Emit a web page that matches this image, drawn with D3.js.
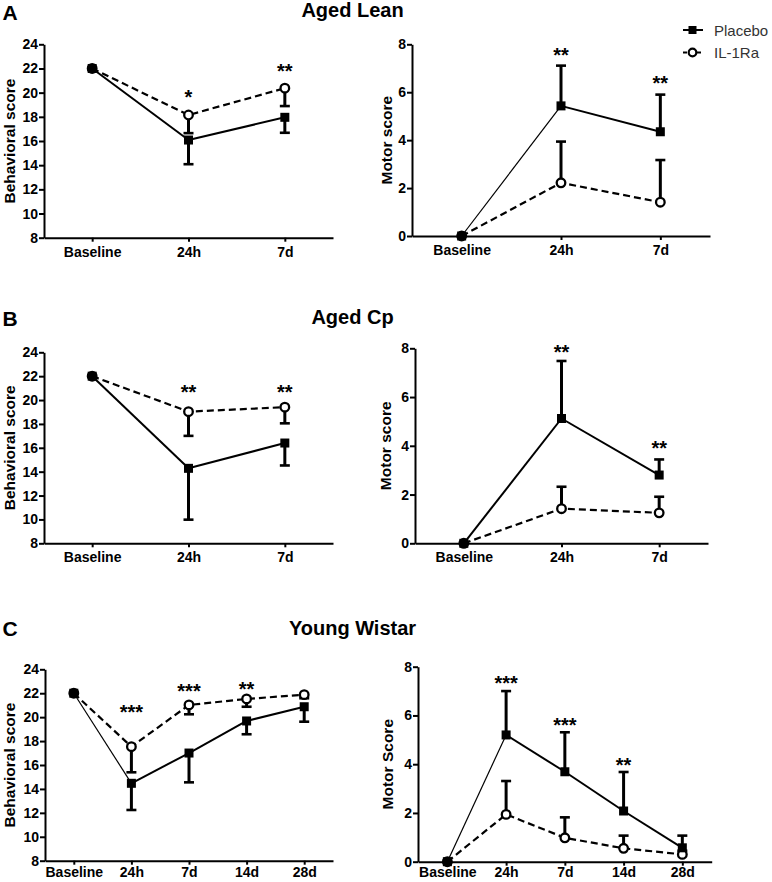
<!DOCTYPE html>
<html><head><meta charset="utf-8">
<script src="https://cdn.jsdelivr.net/npm/d3@7"></script>
<style>
body{margin:0;background:#fff}
text{font-family:"Liberation Sans",Arial,Helvetica,sans-serif}
</style>
</head><body>
<svg id="chart" width="772" height="882"></svg>
<script>
// ---------- DATA ----------
const catsShort = ["Baseline", "24h", "7d"];
const catsLong = ["Baseline", "24h", "7d", "14d", "28d"];
const seriesNames = ["Placebo", "IL-1Ra"];
const behaviorTicks = [8, 10, 12, 14, 16, 18, 20, 22, 24];
const motorTicks = [0, 2, 4, 6, 8];
const panelLetters = ["A", "B", "C"];
const groupTitles = ["Aged Lean", "Aged Cp", "Young Wistar"];

// A - Aged Lean
const leanBehPlacebo = [22, 16.08, 17.96];
const leanBehPlaceboErr = [0, 2.0, 1.28];
const leanBehIL = [22, 18.15, 20.37];
const leanBehILErr = [0, 1.5, 1.48];
const leanBehStars = ["", "*", "**"];
const leanBehStarAt = [null, 20.0, 22.1];

const leanMotPlacebo = [0, 5.43, 4.35];
const leanMotPlaceboErr = [0, 1.68, 1.55];
const leanMotIL = [0, 2.22, 1.41];
const leanMotILErr = [0, 1.72, 1.76];
const leanMotStars = ["", "**", "**"];
const leanMotStarAt = [null, 7.72, 6.55];

// B - Aged Cp
const cpBehPlacebo = [22, 14.28, 16.4];
const cpBehPlaceboErr = [0, 4.3, 1.88];
const cpBehIL = [22, 19.03, 19.4];
const cpBehILErr = [0, 2.03, 1.35];
const cpBehStars = ["", "**", "**"];
const cpBehStarAt = [null, 21.0, 21.0];

const cpMotPlacebo = [0, 5.12, 2.8];
const cpMotPlaceboErr = [0, 2.36, 0.64];
const cpMotIL = [0, 1.42, 1.25];
const cpMotILErr = [0, 0.9, 0.66];
const cpMotStars = ["", "**", "**"];
const cpMotStarAt = [null, 8.0, 4.07];

// C - Young Wistar
const ywBehPlacebo = [22, 14.47, 17.0, 19.68, 20.87];
const ywBehPlaceboErr = [0, 2.23, 2.45, 1.11, 1.25];
const ywBehIL = [22, 17.53, 21.02, 21.52, 21.88];
const ywBehILErr = [0, 2.14, 0.78, 0.65, 0.3];
const ywBehStars = ["", "***", "***", "**", ""];
const ywBehStarAt = [null, 20.76, 22.5, 22.7, null];

const ywMotPlacebo = [0, 5.2, 3.69, 2.08, 0.57];
const ywMotPlaceboErr = [0, 1.8, 1.62, 1.6, 0.5];
const ywMotIL = [0, 1.94, 0.98, 0.55, 0.3];
const ywMotILErr = [0, 1.37, 0.84, 0.52, 0.15];
const ywMotStars = ["", "***", "***", "**", ""];
const ywMotStarAt = [null, 7.5, 5.77, 4.13, null];

// ---------- PANELS (data refs + layout) ----------
const panels = [
  {cats: catsShort, ticks: behaviorTicks, domain: [8, 24], ylabel: "Behavioral score", dir: -1,
   p: leanBehPlacebo, pe: leanBehPlaceboErr, il: leanBehIL, ile: leanBehILErr, stars: leanBehStars, starAt: leanBehStarAt,
   x0: 44, x1: 333, yTop: 44.3, yBot: 237.7, labX: 14.5, thinFirst: false, xPad: 5},
  {cats: catsShort, ticks: motorTicks, domain: [0, 8], ylabel: "Motor score", dir: 1,
   p: leanMotPlacebo, pe: leanMotPlaceboErr, il: leanMotIL, ile: leanMotILErr, stars: leanMotStars, starAt: leanMotStarAt,
   x0: 412, x1: 710, yTop: 44.3, yBot: 236, labX: 392, thinFirst: true, xPad: 5},
  {cats: catsShort, ticks: behaviorTicks, domain: [8, 24], ylabel: "Behavioral score", dir: -1,
   p: cpBehPlacebo, pe: cpBehPlaceboErr, il: cpBehIL, ile: cpBehILErr, stars: cpBehStars, starAt: cpBehStarAt,
   x0: 44, x1: 333, yTop: 352.3, yBot: 543.3, labX: 14.5, thinFirst: false, xPad: 5},
  {cats: catsShort, ticks: motorTicks, domain: [0, 8], ylabel: "Motor score", dir: 1,
   p: cpMotPlacebo, pe: cpMotPlaceboErr, il: cpMotIL, ile: cpMotILErr, stars: cpMotStars, starAt: cpMotStarAt,
   x0: 415, x1: 708, yTop: 348.3, yBot: 543.3, labX: 391, thinFirst: false, xPad: 5},
  {cats: catsLong, ticks: behaviorTicks, domain: [8, 24], ylabel: "Behavioral score", dir: -1,
   p: ywBehPlacebo, pe: ywBehPlaceboErr, il: ywBehIL, ile: ywBehILErr, stars: ywBehStars, starAt: ywBehStarAt,
   x0: 45, x1: 333, yTop: 669.3, yBot: 860.7, labX: 14.5, thinFirst: true, xPad: 2.5},
  {cats: catsLong, ticks: motorTicks, domain: [0, 8], ylabel: "Motor Score", dir: 1,
   p: ywMotPlacebo, pe: ywMotPlaceboErr, il: ywMotIL, ile: ywMotILErr, stars: ywMotStars, starAt: ywMotStarAt,
   x0: 418, x1: 711.7, yTop: 666.7, yBot: 861.7, labX: 393, thinFirst: true, xPad: 1.5}
];
const headerPos = [{letterY: 20, titleY: 16.5}, {letterY: 326, titleY: 324}, {letterY: 636, titleY: 634.5}];

const svg = d3.select("#chart");

// Headers
headerPos.forEach((h, i) => {
  svg.append("text").attr("x", 2.5).attr("y", h.letterY)
    .attr("font-size", 21).attr("font-weight", "bold").text(panelLetters[i]);
  svg.append("text").attr("x", 352.5).attr("y", h.titleY).attr("text-anchor", "middle")
    .attr("font-size", 20).attr("font-weight", "bold").text(groupTitles[i]);
});

panels.forEach(pn => {
  const g = svg.append("g");
  const x = d3.scalePoint().domain(pn.cats).range([pn.x0, pn.x1]).padding(0.5);
  const y = d3.scaleLinear().domain(pn.domain).range([pn.yBot, pn.yTop]);

  // Axes
  const ya = g.append("g").attr("transform", `translate(${pn.x0},0)`)
    .call(d3.axisLeft(y).tickValues(pn.ticks).tickSize(5).tickSizeOuter(0).tickPadding(1));
  const xa = g.append("g").attr("transform", `translate(0,${pn.yBot})`)
    .call(d3.axisBottom(x).tickSize(4).tickSizeOuter(0).tickPadding(pn.xPad));
  [ya, xa].forEach(a => {
    a.selectAll("path").attr("stroke", "#000").attr("stroke-width", 2);
    a.selectAll("line").attr("stroke", "#000").attr("stroke-width", 2);
    a.selectAll("text").attr("font-size", 14).attr("font-weight", "bold").attr("fill", "#000")
      .attr("font-family", '"Liberation Sans",Arial,sans-serif');
  });

  // Y label
  g.append("text")
    .attr("transform", `translate(${pn.labX},${(pn.yTop + pn.yBot) / 2}) rotate(-90)`)
    .attr("text-anchor", "middle").attr("font-size", 15.5).attr("font-weight", "bold")
    .text(pn.ylabel);

  const ptsP = pn.cats.map((c, i) => ({c, v: pn.p[i], e: pn.pe[i]}));
  const ptsI = pn.cats.map((c, i) => ({c, v: pn.il[i], e: pn.ile[i]}));

  // Placebo line (segments)
  for (let i = 0; i < ptsP.length - 1; i++) {
    g.append("line")
      .attr("x1", x(ptsP[i].c)).attr("y1", y(ptsP[i].v))
      .attr("x2", x(ptsP[i + 1].c)).attr("y2", y(ptsP[i + 1].v))
      .attr("stroke", "#000").attr("stroke-width", (i === 0 && pn.thinFirst) ? 1.2 : 2);
  }
  // IL-1Ra dashed line
  const line = d3.line().x(d => x(d.c)).y(d => y(d.v));
  g.append("path").datum(ptsI).attr("d", line).attr("fill", "none")
    .attr("stroke", "#000").attr("stroke-width", 2.2).attr("stroke-dasharray", "7,4");

  // Error bars
  [ptsP, ptsI].forEach(pts => {
    pts.filter(d => d.e > 0).forEach(d => {
      const end = d.v + pn.dir * d.e;
      g.append("line").attr("x1", x(d.c)).attr("x2", x(d.c))
        .attr("y1", y(d.v)).attr("y2", y(end)).attr("stroke", "#000").attr("stroke-width", 3);
      g.append("line").attr("x1", x(d.c) - 5).attr("x2", x(d.c) + 5)
        .attr("y1", y(end)).attr("y2", y(end)).attr("stroke", "#000").attr("stroke-width", 2.6);
    });
  });

  // Markers
  g.selectAll(".ci").data(ptsI).join("circle")
    .attr("cx", d => x(d.c)).attr("cy", d => y(d.v)).attr("r", 4.3)
    .attr("fill", "#fff").attr("stroke", "#000").attr("stroke-width", 2.3);
  g.selectAll(".sq").data(ptsP).join("rect")
    .attr("x", d => x(d.c) - 4.5).attr("y", d => y(d.v) - 4.5)
    .attr("width", 9).attr("height", 9).attr("fill", "#000");

  // Significance stars
  pn.cats.forEach((c, i) => {
    if (!pn.stars[i]) return;
    g.append("text").attr("x", x(c)).attr("y", y(pn.starAt[i]) + 11)
      .attr("text-anchor", "middle").attr("font-size", 20).attr("font-weight", "bold")
      .text(pn.stars[i]);
  });
});

// Legend
const lg = svg.append("g");
lg.append("line").attr("x1", 683).attr("x2", 703).attr("y1", 30).attr("y2", 30)
  .attr("stroke", "#000").attr("stroke-width", 2);
lg.append("rect").attr("x", 688.5).attr("y", 26).attr("width", 8).attr("height", 8).attr("fill", "#000");
lg.append("line").attr("x1", 683).attr("x2", 703).attr("y1", 52.5).attr("y2", 52.5)
  .attr("stroke", "#000").attr("stroke-width", 2).attr("stroke-dasharray", "4,3");
lg.append("circle").attr("cx", 692.5).attr("cy", 52.5).attr("r", 3.8)
  .attr("fill", "#fff").attr("stroke", "#000").attr("stroke-width", 2.2);
[30, 52.5].forEach((yy, i) => {
  lg.append("text").attr("x", 714).attr("y", yy + 5.5).attr("font-size", 15)
    .attr("fill", "#333").text(seriesNames[i]);
});
</script>
</body></html>
